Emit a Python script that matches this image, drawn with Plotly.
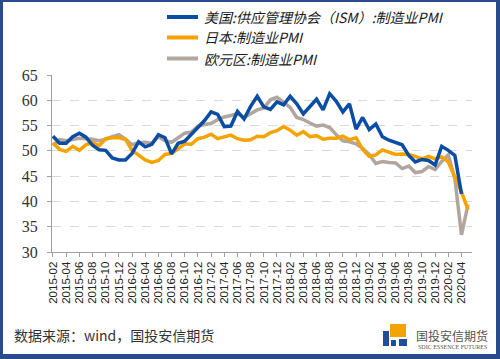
import plotly.graph_objects as go

months = [f"{y}-{m:02d}" for y in range(2015, 2021) for m in range(1, 13)]
months = [m for m in months if "2015-02" <= m <= "2020-05"]

us_ism = [52.9, 51.5, 51.5, 52.8, 53.5, 52.7, 51.1, 50.2, 50.1, 48.6, 48.2,
          48.2, 49.5, 51.8, 50.8, 51.3, 53.2, 52.6, 49.4, 51.5, 51.9, 53.2, 54.7,
          56.0, 57.7, 57.2, 54.8, 54.9, 57.8, 56.3, 58.8, 60.8, 58.7, 58.2, 59.7,
          59.1, 60.8, 59.3, 57.3, 58.7, 60.2, 58.1, 61.3, 59.8, 57.7, 59.3, 54.3,
          56.6, 54.2, 55.3, 52.8, 52.1, 51.7, 51.2, 49.1, 47.8, 48.3, 48.1, 47.2,
          50.9, 50.1, 49.1, 41.5, None]
japan = [51.6, 50.3, 49.9, 50.9, 50.1, 51.2, 51.7, 51.0, 52.4, 52.6, 52.6,
         52.3, 50.1, 49.1, 48.2, 47.7, 48.1, 49.3, 49.5, 50.4, 51.4, 51.3, 52.4,
         52.7, 53.3, 52.4, 52.7, 53.1, 52.4, 52.1, 52.2, 52.9, 52.8, 53.6, 54.0,
         54.8, 54.1, 53.1, 53.8, 52.8, 53.0, 52.3, 52.5, 52.5, 52.9, 52.2, 52.6,
         50.3, 48.9, 49.2, 50.2, 49.8, 49.3, 49.4, 49.3, 48.9, 48.4, 48.9, 48.4,
         48.8, 47.8, 44.8, 41.9, 38.4]
eurozone = [51.0, 52.2, 52.0, 52.2, 52.5, 52.4, 52.3, 52.0, 52.3, 52.8, 53.2,
            52.3, 51.2, 51.6, 51.7, 51.5, 52.8, 52.0, 51.7, 52.6, 53.5, 53.7, 54.9,
            55.2, 55.4, 56.2, 56.7, 57.0, 57.4, 56.6, 57.4, 58.1, 58.5, 60.1, 60.6,
            59.6, 58.6, 56.6, 56.2, 55.5, 54.9, 55.1, 54.6, 53.2, 52.0, 51.8, 51.4,
            50.5, 49.3, 47.5, 47.9, 47.7, 47.6, 46.5, 47.0, 45.7, 45.9, 46.9, 46.3,
            47.9, 49.2, 44.5, 33.4, 39.4]

series_names = ["美国:供应管理协会（ISM）:制造业PMI", "日本:制造业PMI", "欧元区:制造业PMI"]
series_colors = ["#0B4DA2", "#F5A300", "#B1A69E"]
y_ticks = [30, 35, 40, 45, 50, 55, 60, 65]
tick_labels = months[::2]

# plot-area pixel geometry
L, R, T, B = 52, 472, 75, 252
W, H = 500, 359
def px(x):
    return (x - L) / (R - L)
def py(y):
    return (B - y) / (B - T)

fig = go.Figure()
for name, vals, col in [(series_names[2], eurozone, series_colors[2]),
                        (series_names[1], japan, series_colors[1]),
                        (series_names[0], us_ism, series_colors[0])]:
    fig.add_trace(go.Scatter(x=months, y=vals, mode="lines", name=name,
                             line=dict(color=col, width=3.5), showlegend=False))

shapes = []
annotations = []
# manual legend
leg_rows = [17, 37.5, 58.5]
for name, col, yy in zip(series_names, series_colors, leg_rows):
    shapes.append(dict(type="line", xref="paper", yref="paper",
                       x0=px(167), x1=px(198), y0=py(yy), y1=py(yy),
                       line=dict(color=col, width=4)))
    annotations.append(dict(xref="paper", yref="paper", x=px(202), y=py(yy),
                            xanchor="left", yanchor="middle", showarrow=False,
                            text=f"<i>{name}</i>",
                            font=dict(family="Noto Sans CJK SC", size=14, color="#1a1a1a")))

# footer
annotations.append(dict(xref="paper", yref="paper", x=px(12), y=py(335),
                        xanchor="left", yanchor="middle", showarrow=False,
                        text="数据来源：wind，国投安信期货",
                        font=dict(family="Noto Sans CJK SC", size=14, color="#333333")))
# logo
def rect(x0, y0, x1, y1, col):
    shapes.append(dict(type="rect", xref="paper", yref="paper",
                       x0=px(x0), x1=px(x1), y0=py(y1), y1=py(y0),
                       fillcolor=col, line=dict(width=0), layer="above"))
rect(390, 324, 406, 337, "#F5A300")
rect(383, 331, 389, 346, "#1F4E9C")
rect(391, 340, 396, 346, "#1F4E9C")
rect(399, 339, 407, 346, "#1F4E9C")
annotations.append(dict(xref="paper", yref="paper", x=px(452), y=py(335),
                        xanchor="center", yanchor="middle", showarrow=False,
                        text="国投安信期货",
                        font=dict(family="Noto Sans CJK SC", size=12, color="#555555")))
annotations.append(dict(xref="paper", yref="paper", x=px(452), y=py(346.5),
                        xanchor="center", yanchor="middle", showarrow=False,
                        text="SDIC ESSENCE FUTURES",
                        font=dict(family="Liberation Serif", size=6, color="#555555")))
# frame border
bc = "#2A4A8E"
rect(0, 0, 500, 2, bc)
rect(0, 0, 3, 359, bc)
rect(496, 0, 500, 359, bc)
rect(0, 354, 500, 359, bc)

fig.update_layout(
    width=W, height=H,
    margin=dict(l=L, r=W - R, t=T, b=H - B),
    paper_bgcolor="white", plot_bgcolor="white",
    shapes=shapes, annotations=annotations,
    xaxis=dict(type="category", range=[-0.15, 63.6],
               tickmode="array", tickvals=tick_labels, ticktext=tick_labels,
               tickangle=-90, ticks="outside", ticklen=4, tickcolor="#A0A0A0",
               showline=True, linecolor="#A0A0A0", linewidth=1,
               showgrid=False, zeroline=False,
               tickfont=dict(family="Liberation Sans", size=11.5, color="#222222")),
    yaxis=dict(range=[30, 65], tickvals=y_ticks, ticks="outside", ticklen=4,
               tickcolor="#A0A0A0", showline=True, linecolor="#A0A0A0", linewidth=1,
               showgrid=True, gridcolor="#D9D9D9", griddash="dash", gridwidth=1,
               zeroline=False, ticklabelstandoff=6,
               tickfont=dict(family="Liberation Serif", size=16, color="#333333")),
)

fig.write_html("out.html", config={"displayModeBar": False},
               post_script="document.body.style.margin='0';document.body.style.padding='0';")
